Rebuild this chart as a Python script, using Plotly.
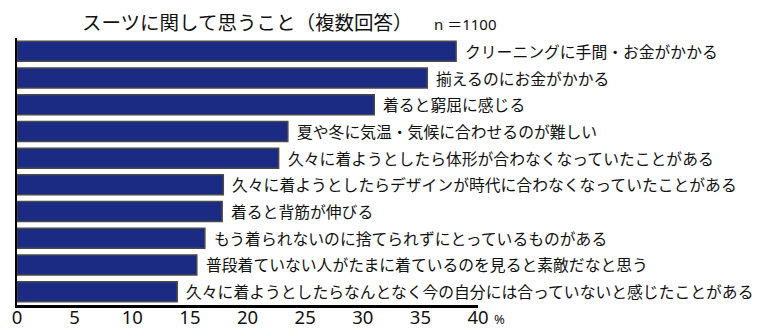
import plotly.graph_objects as go

categories = [
    "クリーニングに手間・お金がかかる",
    "揃えるのにお金がかかる",
    "着ると窮屈に感じる",
    "夏や冬に気温・気候に合わせるのが難しい",
    "久々に着ようとしたら体形が合わなくなっていたことがある",
    "久々に着ようとしたらデザインが時代に合わなくなっていたことがある",
    "着ると背筋が伸びる",
    "もう着られないのに捨てられずにとっているものがある",
    "普段着ていない人がたまに着ているのを見ると素敵だなと思う",
    "久々に着ようとしたらなんとなく今の自分には合っていないと感じたことがある",
]
values = [38.1, 35.6, 31.0, 23.5, 22.7, 17.9, 17.8, 16.3, 15.6, 13.9]
tick_vals = [0, 5, 10, 15, 20, 25, 30, 35, 40]
title_text = "スーツに関して思うこと（複数回答）"
n_text = "n ＝1100"
unit_text = "%"

JP = "Noto Sans CJK JP"

W, H = 760, 334
ML, MR, MT, MB = 17, 282, 38, 29
PW, PH = W - ML - MR, H - MT - MB


def px_x(px):
    return (px - ML) / PW


def px_y(py):
    return (H - MB - py) / PH


fig = go.Figure()
fig.add_trace(go.Bar(
    x=values,
    y=list(range(len(categories))),
    orientation="h",
    width=0.75,
    marker=dict(color="#1b2a82", line=dict(color="#4a4a4a", width=1.5)),
    hoverinfo="skip",
))

for i, (c, v) in enumerate(zip(categories, values)):
    fig.add_annotation(
        x=v, y=i, xref="x", yref="y", text=c, showarrow=False,
        xanchor="left", yanchor="middle", xshift=7,
        font=dict(family=JP, size=15.8, color="#111"),
    )

fig.add_annotation(
    x=px_x(432), y=px_y(24), xref="paper", yref="paper", text=n_text,
    showarrow=False, xanchor="left", yanchor="middle",
    font=dict(family="Noto Sans, " + JP, size=15, color="#111"),
)
fig.add_annotation(
    x=px_x(492), y=px_y(319), xref="paper", yref="paper", text=unit_text,
    showarrow=False, xanchor="left", yanchor="middle",
    font=dict(family="Noto Sans", size=13, color="#111"),
)

fig.update_layout(
    width=W, height=H,
    margin=dict(l=ML, r=MR, t=MT, b=MB, autoexpand=False),
    paper_bgcolor="white", plot_bgcolor="white",
    showlegend=False,
    title=dict(
        text=title_text, x=82 / W, xanchor="left", xref="container",
        y=1 - 23 / H, yanchor="middle", yref="container",
        font=dict(family=JP, size=19.5, color="#111"),
    ),
    xaxis=dict(
        range=[0, 40], tickvals=tick_vals, ticktext=[str(t) for t in tick_vals],
        showgrid=False, zeroline=False, showline=True, linecolor="black",
        linewidth=2.5, ticks="", automargin=False, ticklabelstandoff=-6,
        tickfont=dict(family="Noto Sans", size=18.5, color="#111"),
        fixedrange=True,
    ),
    yaxis=dict(
        range=[len(categories) - 0.5, -0.5], showticklabels=False,
        showgrid=False, zeroline=False, showline=True, linecolor="black",
        linewidth=2, ticks="", automargin=False, fixedrange=True,
    ),
)

fig.write_html("out.html")
